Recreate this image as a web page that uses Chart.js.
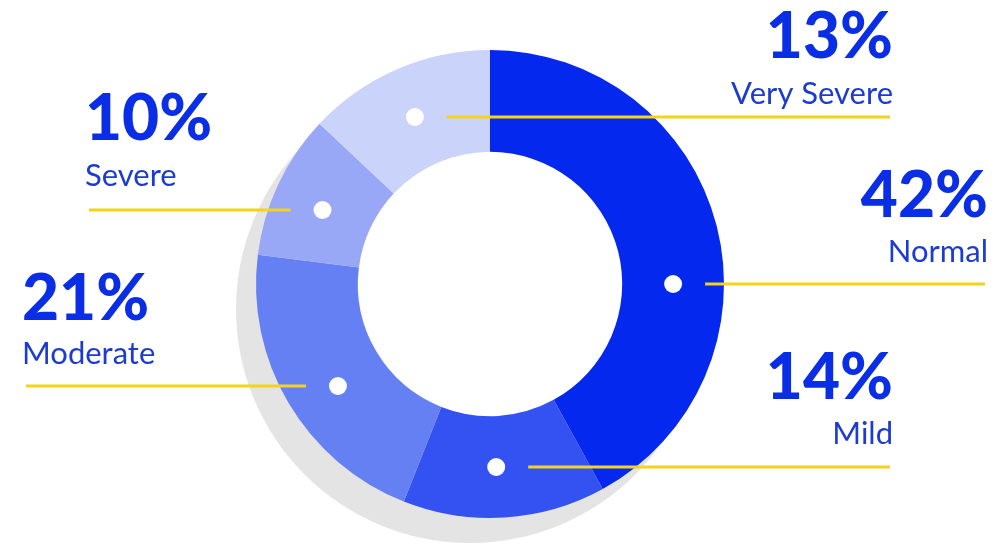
<!DOCTYPE html>
<html lang="en">
<head>
    <meta charset="UTF-8">
    <title>Severity Breakdown</title>
    <script src="https://cdn.jsdelivr.net/npm/chart.js@4/dist/chart.umd.min.js"></script>
    <style>
        * {
            margin: 0;
            padding: 0;
            box-sizing: border-box;
        }

        body {
            background: #ffffff;
            width: 1006px;
            height: 550px;
            overflow: hidden;
        }

        .chart-wrap {
            position: relative;
            width: 1006px;
            height: 550px;
        }
    </style>
</head>
<body>
    <div class="chart-wrap">
        <canvas id="severityChart"></canvas>
    </div>

    <script>
        // Share of each severity group, clockwise from 12 o'clock
        const categories = ['Normal', 'Mild', 'Moderate', 'Severe', 'Very Severe'];
        const shares = [42, 14, 21, 10, 13];
        const sliceColors = ['#0428ee', '#3352f1', '#6580f3', '#98a8f6', '#cad3fa'];

        // Callout placement: which side the text sits on, text anchor x,
        // baselines for the big number and the name, and the leader line row
        const callouts = [
            { side: 'right', x: 988, pctY: 217, nameY: 262, lineY: 284 },
            { side: 'right', x: 893, pctY: 399, nameY: 444, lineY: 467 },
            { side: 'left',  x: 22,  pctY: 320, nameY: 364, lineY: 386 },
            { side: 'left',  x: 85,  pctY: 140, nameY: 186, lineY: 210 },
            { side: 'right', x: 893, pctY: 58,  nameY: 104, lineY: 117 }
        ];

        const PCT_FONT = '900 64px Lato, "Open Sans", sans-serif';
        const NAME_FONT = '400 31px Lato, "Open Sans", sans-serif';
        const PCT_COLOR = '#0a2de6';
        const NAME_COLOR = '#1c3bd2';
        const LINE_COLOR = '#f4d31c';

        // Grey offset disc behind the ring, hole kept white
        const shadowPlugin = {
            id: 'ringShadow',
            beforeDatasetsDraw(chart) {
                const arc = chart.getDatasetMeta(0).data[0];
                if (!arc) return;
                const { x, y, innerRadius, outerRadius } = arc.getProps(['x', 'y', 'innerRadius', 'outerRadius'], true);
                const ctx = chart.ctx;
                ctx.save();
                ctx.fillStyle = '#e4e4e4';
                ctx.beginPath();
                ctx.arc(x - 20, y + 25, outerRadius, 0, Math.PI * 2);
                ctx.fill();
                ctx.fillStyle = '#ffffff';
                ctx.beginPath();
                ctx.arc(x, y, innerRadius, 0, Math.PI * 2);
                ctx.fill();
                ctx.restore();
            }
        };

        // White dots on the ring, yellow leader lines and the text blocks
        const calloutPlugin = {
            id: 'callouts',
            afterDatasetsDraw(chart) {
                const meta = chart.getDatasetMeta(0);
                const ctx = chart.ctx;
                ctx.save();
                meta.data.forEach((arc, i) => {
                    const c = callouts[i];
                    const { x, y, startAngle, endAngle, innerRadius, outerRadius } =
                        arc.getProps(['x', 'y', 'startAngle', 'endAngle', 'innerRadius', 'outerRadius'], true);
                    const rMid = (innerRadius + outerRadius) / 2;
                    const dy = c.lineY - y;
                    const dx = Math.sqrt(Math.max(rMid * rMid - dy * dy, 0));
                    // dot sits on the half of the ring its slice is in
                    const half = Math.cos((startAngle + endAngle) / 2) >= 0 ? 1 : -1;
                    const dotX = x + half * dx;
                    const dir = c.side === 'right' ? 1 : -1;

                    // leader line
                    ctx.strokeStyle = LINE_COLOR;
                    ctx.lineWidth = 3;
                    ctx.beginPath();
                    ctx.moveTo(dotX + dir * 32, c.lineY);
                    ctx.lineTo(c.x + (c.side === 'right' ? -3 : 4), c.lineY);
                    ctx.stroke();

                    // dot
                    ctx.fillStyle = '#ffffff';
                    ctx.beginPath();
                    ctx.arc(dotX, c.lineY, 9, 0, Math.PI * 2);
                    ctx.fill();

                    // text
                    ctx.textAlign = c.side === 'right' ? 'right' : 'left';
                    ctx.textBaseline = 'alphabetic';
                    ctx.fillStyle = PCT_COLOR;
                    ctx.font = PCT_FONT;
                    ctx.fillText(shares[i] + '%', c.x, c.pctY);
                    ctx.fillStyle = NAME_COLOR;
                    ctx.font = NAME_FONT;
                    ctx.fillText(categories[i], c.x, c.nameY);
                });
                ctx.restore();
            }
        };

        const ctx = document.getElementById('severityChart').getContext('2d');
        new Chart(ctx, {
            type: 'doughnut',
            data: {
                labels: categories,
                datasets: [{
                    data: shares,
                    backgroundColor: sliceColors,
                    borderWidth: 0,
                    hoverOffset: 0
                }]
            },
            options: {
                responsive: true,
                maintainAspectRatio: false,
                animation: false,
                cutout: '56.5%',
                layout: {
                    padding: { top: 50, bottom: 32, left: 0, right: 26 }
                },
                plugins: {
                    legend: { display: false },
                    tooltip: { enabled: false }
                },
                events: []
            },
            plugins: [shadowPlugin, calloutPlugin]
        });
    </script>
</body>
</html>
